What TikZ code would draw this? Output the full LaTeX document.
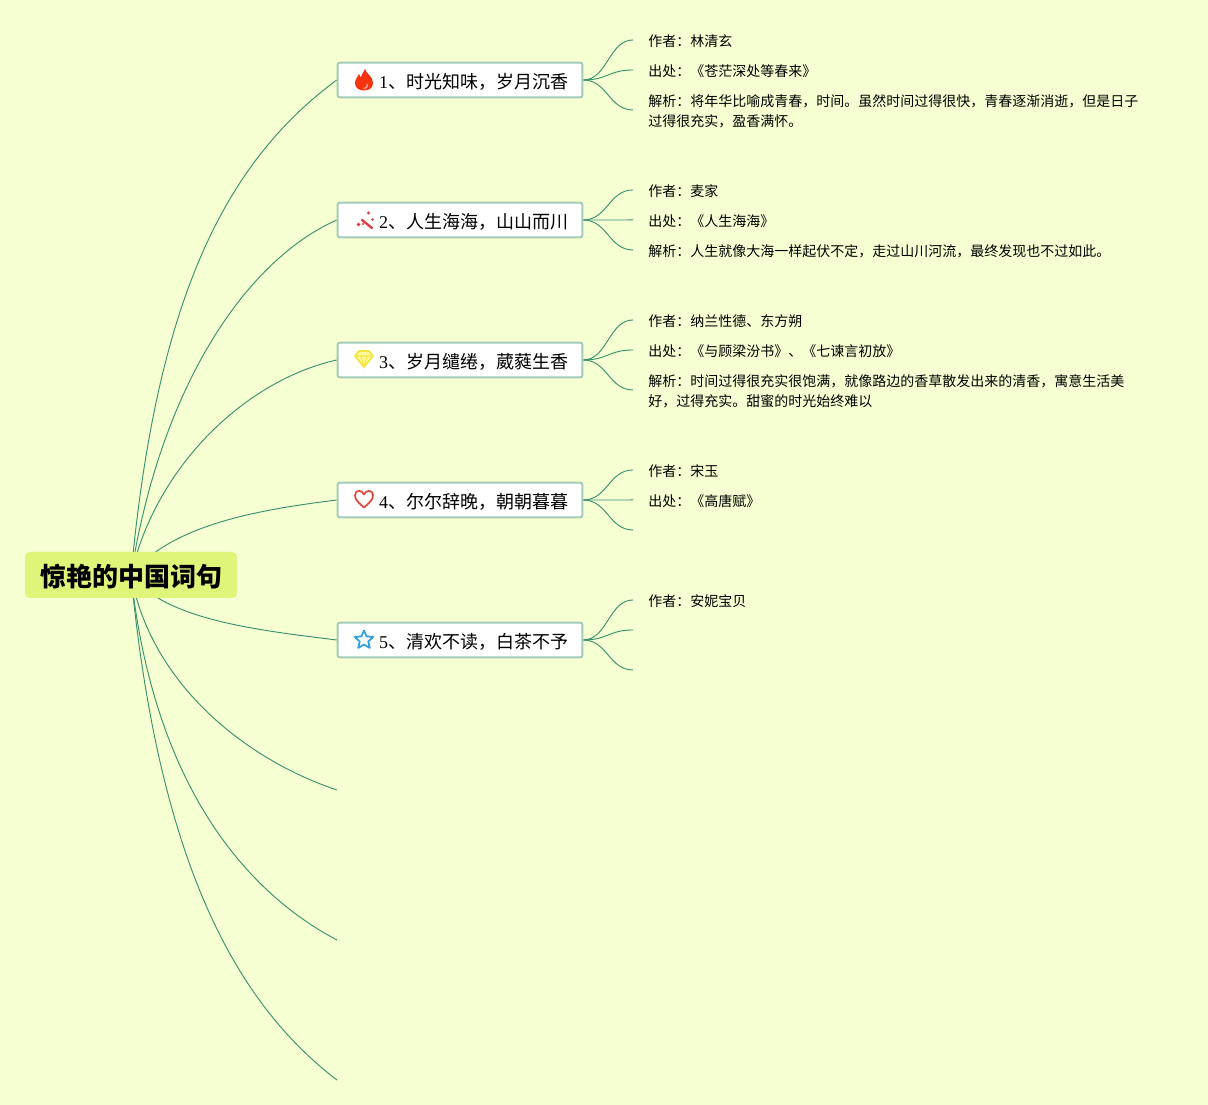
\documentclass[tikz,border=0pt]{standalone}
\usepackage{fontspec}
\setmainfont{Liberation Serif}
\newfontfamily\cjk{Noto Sans CJK SC}
\usetikzlibrary{backgrounds}
\definecolor{paper}{HTML}{F6FFD2}
\definecolor{rootfill}{HTML}{DFF57A}
\definecolor{topicline}{HTML}{A3CAB6}
\definecolor{linkcol}{HTML}{3A9070}
\definecolor{flame}{HTML}{F5330F}
\definecolor{wandred}{HTML}{DC3A3A}
\definecolor{gemfill}{HTML}{FFF7A0}
\definecolor{gemline}{HTML}{F4E63C}
\definecolor{heartred}{HTML}{E2483C}
\definecolor{starblue}{HTML}{2E9FE2}
\newcommand{\topiclabel}[2]{\hspace*{20.5pt}#1{\cjk 、#2}}
\tikzset{
  rootbox/.style={fill=rootfill,rounded corners=3.5pt,minimum width=159pt,minimum height=34.5pt,inner sep=0pt,text height=20.2pt,text depth=2.3pt,font=\cjk\bfseries\fontsize{19.5}{24}\selectfont},
  topicbox/.style={draw=topicline,line width=1.4pt,fill=white,rounded corners=1.5pt,minimum width=183.5pt,minimum height=26pt,inner sep=0pt,text height=14pt,text depth=1.6pt,font=\fontsize{13.5}{16}\selectfont},
  detailbox/.style={anchor=west,inner xsep=11.25pt,inner ysep=0pt,align=left,font=\cjk\fontsize{10.5}{15}\selectfont},
  linkline/.style={draw=linkcol,line width=0.7pt},
  firepic/.pic={
    \fill[flame] (1,-11) .. controls (2,-6) and (9,-4) .. (9,3) .. controls (9,8) and (5,10.5) .. (0,10.5) .. controls (-5,10.5) and (-9,8) .. (-9,3) .. controls (-9,-1) and (-6,-3) .. (-5,-6) .. controls (-4,-4) and (-3.5,-3) .. (-3,-3) .. controls (-2,-5) and (-1,-8) .. (1,-11) -- cycle;
    \fill[white!55!flame] (3,3) .. controls (4,5) and (5,6) .. (3,8) .. controls (2,9) and (0,9) .. (-1,8.5) .. controls (2,8) and (3,6) .. (3,3) -- cycle;
  },
  wandpic/.pic={
    \draw[wandred,line width=1.7pt] (-3.5,-1.5) -- (7.5,7.5);
    \fill[wandred] (3.5,-8) circle (1.6) (7.5,-1.5) circle (1.4) (-6.5,3.5) circle (1.8) (-2,3) circle (1.1);
  },
  gempic/.pic={
    \draw[gemline,fill=gemfill,line width=1.3pt,line join=round] (-5,-8) -- (5,-8) -- (9,-3) -- (0,8) -- (-9,-3) -- cycle;
    \draw[gemline,line width=0.8pt] (-9,-3) -- (9,-3) (-3,-3) -- (0,8) -- (3,-3);
  },
  heartpic/.pic={
    \draw[heartred,line width=1.3pt,line join=round] (0,8.5) .. controls (-5,4) and (-9,1) .. (-9,-3.5) .. controls (-9,-9.5) and (-2,-9.5) .. (0,-4.5) .. controls (2,-9.5) and (9,-9.5) .. (9,-3.5) .. controls (9,1) and (5,4) .. (0,8.5) -- cycle;
  },
  starpic/.pic={
    \draw[starblue,line width=1.3pt,line join=round] (0,-9.5) -- (2.6,-3.6) -- (9.2,-3) -- (4.3,1.4) -- (5.8,8) -- (0,4.5) -- (-5.8,8) -- (-4.3,1.4) -- (-9.2,-3) -- (-2.6,-3.6) -- cycle;
  }
}
\begin{document}
\begin{tikzpicture}[x=0.75pt,y=-0.75pt]
  \useasboundingbox (0,0) rectangle (1208,1105);
  % root and the five topics
  \node[rootbox] (root) at (131,575) {\hspace*{1.5pt}惊艳的中国词句};
  \node[topicbox] (topicA) at (460,80) {\topiclabel{1}{时光知味，岁月沉香}};
  \node[topicbox] (topicB) at (460,220) {\topiclabel{2}{人生海海，山山而川}};
  \node[topicbox] (topicC) at (460,360) {\topiclabel{3}{岁月缱绻，葳蕤生香}};
  \node[topicbox] (topicD) at (460,500) {\topiclabel{4}{尔尔辞晚，朝朝暮暮}};
  \node[topicbox] (topicE) at (460,640) {\topiclabel{5}{清欢不读，白茶不予}};
  \coordinate (endF) at (337,790);
  \coordinate (endG) at (337,940);
  \coordinate (endH) at (337,1080);

  % icons
  \pic at (364,80) {firepic};
  \pic at (365,221) {wandpic};
  \pic at (364,359) {gempic};
  \pic at (364,499) {heartpic};
  \pic at (364,640) {starpic};

  % leaves
  \node[detailbox] (leafAa) at (633,41.3) {作者：林清玄};
  \node[detailbox] (leafAb) at (633,71.3) {出处：《苍茫深处等春来》};
  \node[detailbox] (leafAc) at (633,111.3) {解析：将年华比喻成青春，时间。虽然时间过得很快，青春逐渐消逝，但是日子\\过得很充实，盈香满怀。};
  \node[detailbox] (leafBa) at (633,191.3) {作者：麦家};
  \node[detailbox] (leafBb) at (633,221.3) {出处：《人生海海》};
  \node[detailbox] (leafBc) at (633,251.3) {解析：人生就像大海一样起伏不定，走过山川河流，最终发现也不过如此。};
  \node[detailbox] (leafCa) at (633,321.3) {作者：纳兰性德、东方朔};
  \node[detailbox] (leafCb) at (633,351.3) {出处：《与顾梁汾书》、《七谏言初放》};
  \node[detailbox] (leafCc) at (633,391.3) {解析：时间过得很充实很饱满，就像路边的香草散发出来的清香，寓意生活美\\好，过得充实。甜蜜的时光始终难以};
  \node[detailbox] (leafDa) at (633,471.3) {作者：宋玉};
  \node[detailbox] (leafDb) at (633,501.3) {出处：《高唐赋》};
  \coordinate (leafDc) at (633,531.3);
  \node[detailbox] (leafEa) at (633,601.3) {作者：安妮宝贝};
  \coordinate (leafEb) at (633,631.3);
  \coordinate (leafEc) at (633,671.3);

  \begin{scope}[on background layer]
    \fill[paper] (0,0) rectangle (1208,1105);
    \draw[linkline] (root.center) .. controls +(25,-270) and +(-115,85) .. (topicA.west);
    \draw[linkline] (root.center) .. controls +(30,-190) and +(-90,40) .. (topicB.west);
    \draw[linkline] (root.center) .. controls +(25,-110) and +(-90,20) .. (topicC.west);
    \draw[linkline] (root.center) .. controls +(40,-50) and +(-80,10) .. (topicD.west);
    \draw[linkline] (root.center) .. controls +(35,45) and +(-80,-10) .. (topicE.west);
    \draw[linkline] (root.center) .. controls +(20,110) and +(-90,-30) .. (endF);
    \draw[linkline] (root.center) .. controls +(22,205) and +(-95,-50) .. (endG);
    \draw[linkline] (root.center) .. controls +(27,280) and +(-105,-80) .. (endH);
    \foreach \top/\leaf in {topicA/leafAa.west,topicA/leafAb.west,topicA/leafAc.west,topicB/leafBa.west,topicB/leafBb.west,topicB/leafBc.west,topicC/leafCa.west,topicC/leafCb.west,topicC/leafCc.west,topicD/leafDa.west,topicD/leafDb.west,topicD/leafDc,topicE/leafEa.west,topicE/leafEb,topicE/leafEc}
      \draw[linkline] (\top.east) .. controls +(24,0) and +(-24,0) .. ([yshift=1pt]\leaf);
  \end{scope}
\end{tikzpicture}
\end{document}
